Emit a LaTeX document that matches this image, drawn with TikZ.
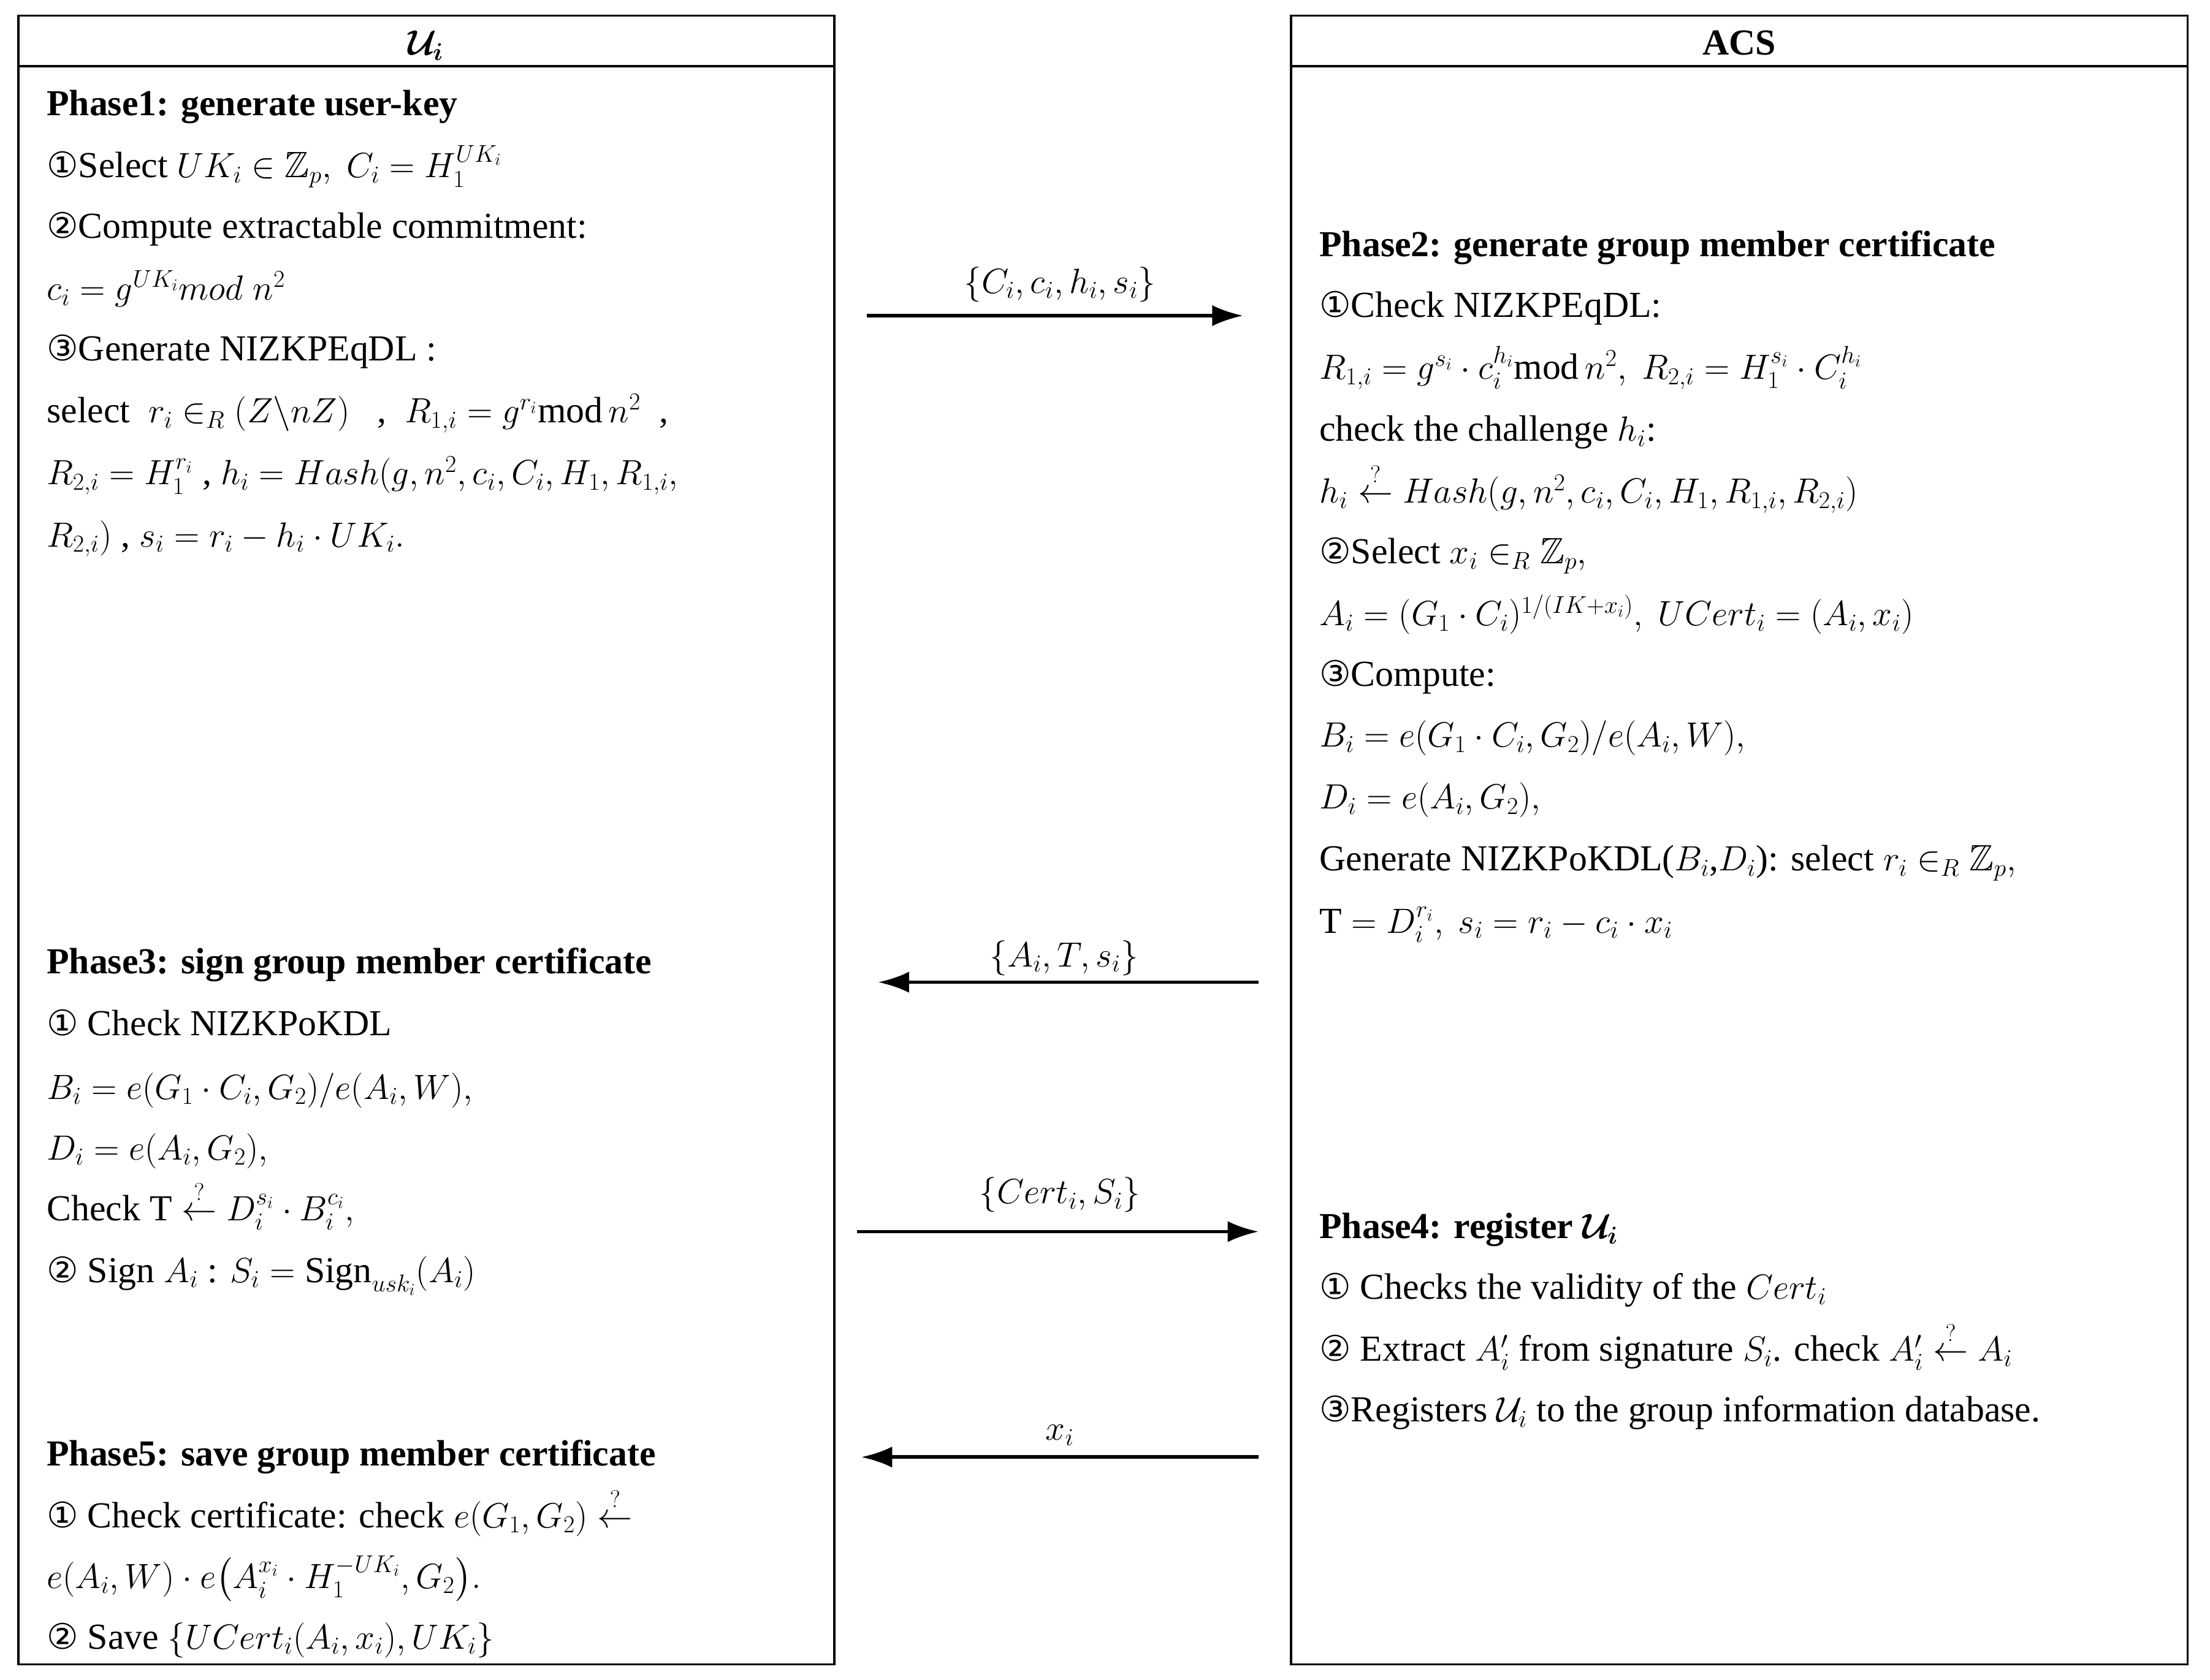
\documentclass[tikz,border=0pt]{standalone}
\usepackage{amsmath,amssymb}
\usepackage{fontspec}
\setmainfont{Liberation Serif}
\newfontfamily\cfont{DejaVu Sans}
\usetikzlibrary{arrows.meta}
\newcommand{\cn}[1]{{\cfont\fontsize{25}{28}\selectfont #1}}
\begin{document}
\begin{tikzpicture}[x=1pt,y=-1pt,
  box/.style={draw,line width=1.5pt},
  t/.style={anchor=base west,inner sep=0pt,font=\fontsize{26}{30}\selectfont},
  lab/.style={anchor=base,inner sep=0pt,font=\fontsize{26}{30}\selectfont},
  arr/.style={line width=2.5pt,-{Latex[length=22pt,width=15pt]}}]
\useasboundingbox (0,0) rectangle (1568,1192);
\draw[box] (13,11) rectangle (592,1181);
\draw[box] (13,47) -- (592,47);
\draw[box] (916,11) rectangle (1552,1181);
\draw[box] (916,47) -- (1552,47);
\node[lab] (hl) at (302,39) {$\boldsymbol{\mathcal{U}_i}$};
\node[lab] (hr) at (1234,39) {\textbf{ACS}};
% left
\node[t] (l1) at (33,82) {\textbf{Phase1: generate user-key}};
\node[t] (l2) at (33,126) {\cn{①}Select $UK_i\in\mathbb{Z}_p,\ C_i=H_1^{UK_i}$};
\node[t] (l3) at (33,169) {\cn{②}Compute extractable commitment:};
\node[t] (l4) at (33,213) {$c_i=g^{UK_i}mod\;n^2$};
\node[t] (l5) at (33,256) {\cn{③}Generate NIZKPEqDL :};
\node[t] (l6) at (33,300) {select\ \ $r_i\in_R(Z\backslash nZ)$\ \ \ ,\ \ $R_{1,i}=g^{r_i}\mathrm{mod}\,n^2$\ \ ,};
\node[t] (l7) at (33,344) {$R_{2,i}=H_1^{r_i}$\ , $h_i=Hash(g,n^2,c_i,C_i,H_1,R_{1,i},$};
\node[t] (l8) at (33,388) {$R_{2,i})$\ , $s_i=r_i-h_i\cdot UK_i.$};
\node[t] (l9) at (33,691) {\textbf{Phase3: sign group member certificate}};
\node[t] (l10) at (33,735) {\cn{①} Check NIZKPoKDL};
\node[t] (l11) at (33,780) {$B_i=e(G_1\cdot C_i,G_2)/e(A_i,W),$};
\node[t] (l12) at (33,823) {$D_i=e(A_i,G_2),$};
\node[t] (l13) at (33,866) {Check $\mathrm{T}\overset{?}{\leftarrow}D_i^{s_i}\cdot B_i^{c_i},$};
\node[t] (l14) at (33,910) {\cn{②} Sign $A_i$\ : $S_i=\mathrm{Sign}_{usk_i}(A_i)$};
\node[t] (l15) at (33,1040) {\textbf{Phase5: save group member certificate}};
\node[t] (l16) at (33,1084) {\cn{①} Check certificate: check $e(G_1,G_2)\overset{?}{\leftarrow}$};
\node[t] (l17) at (33,1127) {$e(A_i,W)\cdot e\big(A_i^{x_i}\cdot H_1^{-UK_i},G_2\big).$};
\node[t] (l18) at (33,1170) {\cn{②} Save $\{UCert_i(A_i,x_i),UK_i\}$};
% right
\node[t] (r1) at (936,182) {\textbf{Phase2: generate group member certificate}};
\node[t] (r2) at (936,225) {\cn{①}Check NIZKPEqDL:};
\node[t] (r3) at (936,269) {$R_{1,i}=g^{s_i}\cdot c_i^{h_i}\mathrm{mod}\,n^2,\ R_{2,i}=H_1^{s_i}\cdot C_i^{h_i}$};
\node[t] (r4) at (936,313) {check the challenge\ $h_i$:};
\node[t] (r5) at (936,357) {$h_i\overset{?}{\leftarrow}Hash(g,n^2,c_i,C_i,H_1,R_{1,i},R_{2,i})$};
\node[t] (r6) at (936,400) {\cn{②}Select\ $x_i\in_R\mathbb{Z}_p,$};
\node[t] (r7) at (936,444) {$A_i=(G_1\cdot C_i)^{1/(IK+x_i)},\ UCert_i=(A_i,x_i)$};
\node[t] (r8) at (936,487) {\cn{③}Compute:};
\node[t] (r9) at (936,530) {$B_i=e(G_1\cdot C_i,G_2)/e(A_i,W),$};
\node[t] (r10) at (936,574) {$D_i=e(A_i,G_2),$};
\node[t] (r11) at (936,618) {Generate NIZKPoKDL($B_i$,$D_i$): select $r_i\in_R\mathbb{Z}_p,$};
\node[t] (r12) at (936,662) {$\mathrm{T}=D_i^{r_i},\ s_i=r_i-c_i\cdot x_i$};
\node[t] (r13) at (936,879) {\textbf{Phase4: register} $\boldsymbol{\mathcal{U}_i}$};
\node[t] (r14) at (936,922) {\cn{①} Checks the validity of the\ $Cert_i$};
\node[t] (r15) at (936,966) {\cn{②} Extract\ $A_i'$\ from signature\ $S_i$. check\ $A_i'\overset{?}{\leftarrow}A_i$};
\node[t] (r16) at (936,1009) {\cn{③}Registers\ $\mathcal{U}_i$\ to the group information database.};
% arrows
\coordinate (a1s) at (615,224); \coordinate (a1e) at (882,224);
\coordinate (a2s) at (893,697); \coordinate (a2e) at (623,697);
\coordinate (a3s) at (608,874); \coordinate (a3e) at (893,874);
\coordinate (a4s) at (893,1034); \coordinate (a4e) at (611,1034);
\draw[arr] (a1s) -- (a1e);
\draw[arr] (a2s) -- (a2e);
\draw[arr] (a3s) -- (a3e);
\draw[arr] (a4s) -- (a4e);
\node[lab] (m1) at (752,208) {$\{C_i,c_i,h_i,s_i\}$};
\node[lab] (m2) at (755,686) {$\{A_i,T,s_i\}$};
\node[lab] (m3) at (752,854) {$\{Cert_i,S_i\}$};
\node[lab] (m4) at (752,1022) {$x_i$};
\end{tikzpicture}
\end{document}
